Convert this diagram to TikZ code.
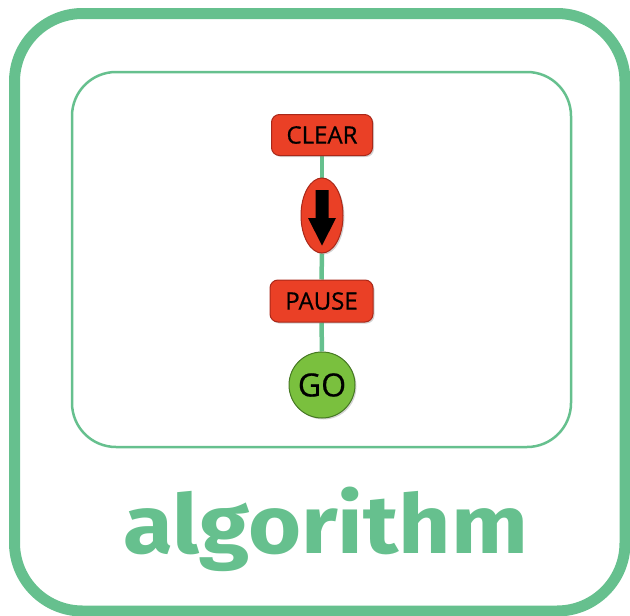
\documentclass[tikz,border=0pt]{standalone}
\usepackage{fontspec}
\setmainfont{Open Sans}
\newfontfamily\signfont[FakeBold=0.6]{Open Sans}
\newfontfamily\titlefont[FakeStretch=1.11]{Fira Sans}
\usetikzlibrary{shapes.geometric,backgrounds,shadows}
\definecolor{framegreen}{RGB}{102,192,142}
\definecolor{signred}{RGB}{234,64,38}
\definecolor{signedge}{RGB}{170,40,25}
\definecolor{gogreen}{RGB}{122,192,62}
\definecolor{goedge}{RGB}{70,120,35}
\tikzset{
  sign/.style={rectangle, rounded corners=8pt, fill=signred, draw=signedge, line width=1pt,
    minimum width=101pt, minimum height=41pt, inner sep=0pt, font=\signfont\fontsize{24}{24}\selectfont,
    drop shadow={shadow xshift=1.5pt, shadow yshift=-1.5pt, opacity=0.35}},
  oval/.style={ellipse, fill=signred, draw=signedge, line width=1pt,
    minimum width=42pt, minimum height=75pt, inner sep=0pt,
    drop shadow={shadow xshift=1.5pt, shadow yshift=-1.5pt, opacity=0.35}},
  gocircle/.style={circle, fill=gogreen, draw=goedge, line width=1pt,
    minimum size=66pt, inner sep=0pt, font=\signfont\fontsize{32}{32}\selectfont,
    drop shadow={shadow xshift=1.5pt, shadow yshift=-1.5pt, opacity=0.35}},
  link/.style={draw=framegreen, line width=4.5pt},
}
\begin{document}
\begin{tikzpicture}[x=1pt,y=-1pt]
\useasboundingbox (0,0) rectangle (630,616);
% frames
\draw[framegreen, line width=11pt, rounded corners=68pt] (14.5,13.5) rectangle (625,611);
\draw[framegreen, line width=2.5pt, rounded corners=44pt] (72,72) rectangle (571,447);
% nodes
\node[sign] (clear) at (322,135) {CLEAR};
\node[oval] (dir) at (322,215.5) {};
\node[sign, minimum width=103pt, minimum height=42pt] (pause) at (321.5,301) {PAUSE};
\node[gocircle] (go) at (322,385) {GO};
% arrow inside oval
\fill[black] ([shift={(-6.5,-25.5)}]dir.center) -- ([shift={(6.5,-25.5)}]dir.center)
  -- ([shift={(6.5,2.5)}]dir.center) -- ([shift={(14,2.5)}]dir.center)
  -- ([shift={(0,30)}]dir.center) -- ([shift={(-14,2.5)}]dir.center)
  -- ([shift={(-6.5,2.5)}]dir.center) -- cycle;
% connectors
\begin{scope}[on background layer]
\draw[link] (clear.south) -- (dir.north);
\draw[link] (dir.south) -- (pause.north);
\draw[link] (pause.south) -- (go.north);
\end{scope}
% title
\node[text=framegreen, font=\titlefont\bfseries\fontsize{82}{82}\selectfont, anchor=base] (title) at (326,553) {algorithm};
\end{tikzpicture}
\end{document}
